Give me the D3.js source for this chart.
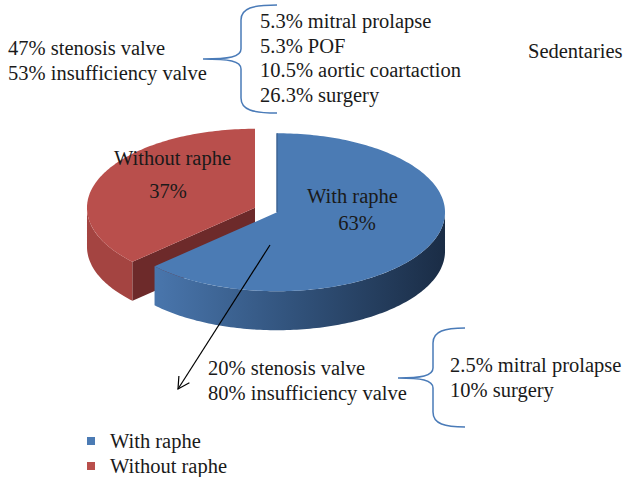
<!DOCTYPE html>
<html>
<head>
<meta charset="utf-8">
<script src="https://cdn.jsdelivr.net/npm/d3@7"></script>
<style>
  html, body { margin: 0; padding: 0; background: #ffffff; }
  svg { display: block; }
  text { font-family: "Liberation Serif", "Times New Roman", serif; fill: #1a1a1a; }
</style>
</head>
<body>
<svg id="chart" width="627" height="477"></svg>
<script>
// ---------- data ----------
const categories = ["With raphe", "Without raphe"];
const values = [63, 37];
const title = "Sedentaries";
const topNotes = ["47% stenosis valve", "53% insufficiency valve"];
const topDetails = ["5.3% mitral prolapse", "5.3% POF", "10.5% aortic coartaction", "26.3% surgery"];
const bottomNotes = ["20% stenosis valve", "80% insufficiency valve"];
const bottomDetails = ["2.5% mitral prolapse", "10% surgery"];

// ---------- layout ----------
const svg = d3.select("#chart");
const cx = 266, cy = 210, rx = 168, ry = 79, depth = 39, explode = 12;
const fontSize = 20.5;

const color = d3.scaleOrdinal().domain(categories).range(["#4b7bb4", "#b94f4c"]);
const darkFace = d3.scaleOrdinal().domain(categories).range(["#3d6494", "#6d2a2a"]);
const sideColor = d3.scaleOrdinal().domain(categories).range(["url(#blueSide)", "#a44441"]);

const defs = svg.append("defs");
const g1 = defs.append("linearGradient").attr("id", "blueSide")
  .attr("gradientUnits", "userSpaceOnUse").attr("x1", 150).attr("x2", 446).attr("y1", 0).attr("y2", 0);
g1.append("stop").attr("offset", 0).attr("stop-color", "#4a77ae");
g1.append("stop").attr("offset", 0.45).attr("stop-color", "#33557f");
g1.append("stop").attr("offset", 1).attr("stop-color", "#1a2c45");

const pie = d3.pie().sort(null).value(d => d);
const arcs = pie(values).map((a, i) => ({...a, name: categories[i]}));

function pt(a, ox, oy, dz) {
  return [cx + ox + rx * Math.sin(a), cy + oy - ry * Math.cos(a) + dz];
}
function arcPts(a0, a1, ox, oy, dz) {
  const n = Math.max(2, Math.ceil(Math.abs(a1 - a0) / 0.02));
  return d3.range(n + 1).map(k => pt(a0 + (a1 - a0) * k / n, ox, oy, dz));
}
const line = d3.line();

// Draw slices back to front: red (index 1) first, then blue
const order = [1, 0];
order.forEach(i => {
  const a = arcs[i];
  const mid = (a.startAngle + a.endAngle) / 2;
  const ox = explode * Math.sin(mid);
  const oy = -explode * Math.cos(mid) * ry / rx;
  const apex = [cx + ox, cy + oy];
  const g = svg.append("g");

  // outer visible side (front half)
  const s0 = Math.max(a.startAngle, Math.PI / 2);
  const s1 = Math.min(a.endAngle, 3 * Math.PI / 2);
  if (s1 > s0) {
    const topArc = arcPts(s0, s1, ox, oy, 0);
    const botArc = arcPts(s1, s0, ox, oy, depth);
    g.append("path").attr("d", line(topArc.concat(botArc)) + "Z")
      .attr("fill", sideColor(a.name));
  }
  // radial cut face at start angle of the red slice (faces the viewer)
  if (i === 1) {
    const rim = pt(a.startAngle, ox, oy, 0);
    const poly = [apex, rim, [rim[0], rim[1] + depth], [apex[0], apex[1] + depth]];
    g.append("path").attr("d", line(poly) + "Z").attr("fill", darkFace(a.name));
  }
  // top face
  const top = [apex].concat(arcPts(a.startAngle, a.endAngle, ox, oy, 0));
  g.append("path").attr("d", line(top) + "Z").attr("fill", color(a.name));
  if (i === 0) {
    const t = pt(a.startAngle, ox, oy, 0);
    g.append("line").attr("x1", apex[0]).attr("y1", apex[1]).attr("x2", t[0]).attr("y2", t[1])
      .attr("stroke", darkFace(a.name)).attr("stroke-width", 1.5);
  }
});

// slice labels
const labelPos = [[352.5, 203, 357, 230], [172.5, 165, 168, 198]];
arcs.forEach((a, i) => {
  const p = labelPos[i];
  svg.append("text").attr("x", p[0]).attr("y", p[1]).attr("text-anchor", "middle")
    .attr("font-size", fontSize).text(a.name);
  svg.append("text").attr("x", p[2]).attr("y", p[3]).attr("text-anchor", "middle")
    .attr("font-size", fontSize).text(a.value + "%");
});

// arrow
svg.append("line").attr("x1", 270).attr("y1", 245).attr("x2", 178).attr("y2", 389)
  .attr("stroke", "#000").attr("stroke-width", 1.2);
(function () {
  const ang = Math.atan2(389 - 245, 178 - 270);
  const L = 13, spread = 0.5;
  const tip = [178, 389];
  const p1 = [tip[0] - L * Math.cos(ang - spread), tip[1] - L * Math.sin(ang - spread)];
  const p2 = [tip[0] - L * Math.cos(ang + spread), tip[1] - L * Math.sin(ang + spread)];
  svg.append("path").attr("d", line([p1, tip, p2])).attr("fill", "none")
    .attr("stroke", "#000").attr("stroke-width", 1.2);
})();

// text blocks
function block(lines, x, y0, step) {
  lines.forEach((t, k) => {
    svg.append("text").attr("x", x).attr("y", y0 + k * step).attr("font-size", fontSize).text(t);
  });
}
block(topNotes, 8, 55, 25);
block(topDetails, 260, 28, 24.5);
block(bottomNotes, 208, 375, 25);
block(bottomDetails, 450, 372, 25);
svg.append("text").attr("x", 528).attr("y", 58).attr("font-size", fontSize).text(title);

// braces
const braceColor = "#4a7bb8";
function brace(xv, xEnd, xTip, yTop, yMid, yBot) {
  const d = `M${xEnd},${yTop} C${xv + 12},${yTop} ${xv},${yTop + 3} ${xv},${yTop + 15}` +
    ` L${xv},${yMid - 10} C${xv},${yMid - 2} ${xv - 12},${yMid} ${xTip},${yMid}` +
    ` C${xv - 12},${yMid} ${xv},${yMid + 2} ${xv},${yMid + 10}` +
    ` L${xv},${yBot - 15} C${xv},${yBot - 3} ${xv + 12},${yBot} ${xEnd},${yBot}`;
  svg.append("path").attr("d", d).attr("fill", "none").attr("stroke", braceColor).attr("stroke-width", 1.5);
}
brace(241, 277, 203, 5, 59, 113);
brace(433, 465, 398, 328, 378, 427);

// legend
const leg = svg.append("g");
categories.forEach((c, i) => {
  leg.append("rect").attr("x", 87).attr("y", 437 + i * 25).attr("width", 8).attr("height", 8).attr("fill", color(c));
  leg.append("text").attr("x", 110).attr("y", 448 + i * 25).attr("font-size", fontSize).text(c);
});
</script>
</body>
</html>
